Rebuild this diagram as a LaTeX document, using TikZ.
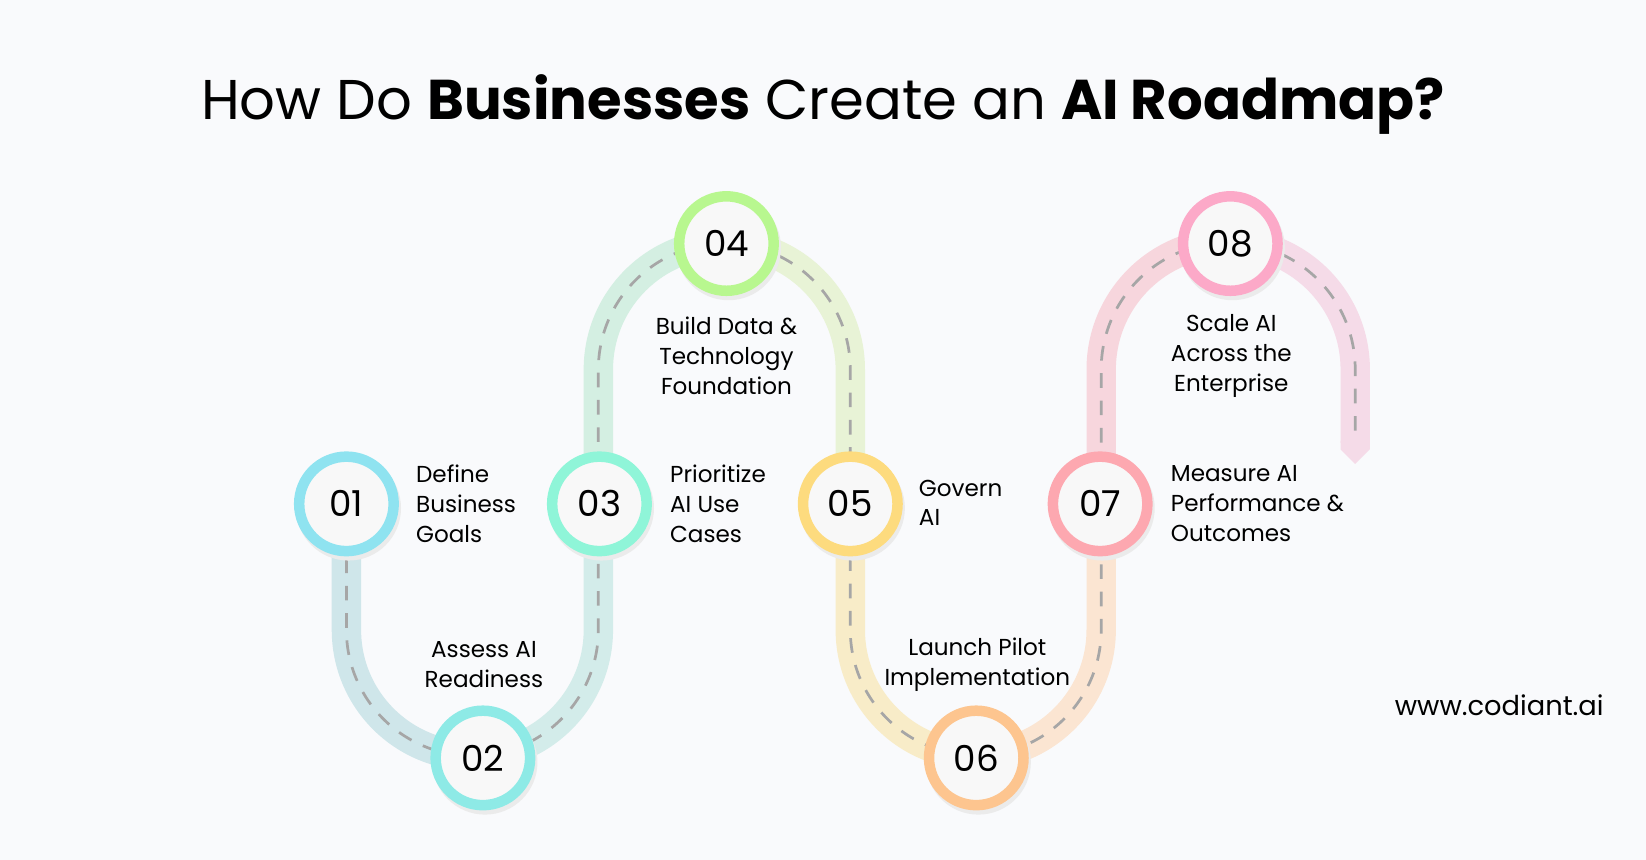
\documentclass[tikz,border=0pt]{standalone}
\usepackage{fontspec}
\setmainfont{Poppins}
\begin{document}
\begin{tikzpicture}[x=0.5pt,y=-0.5pt,
  band/.style={line width=14pt},
  ring/.style={circle,minimum size=45pt,inner sep=0pt,line width=5pt,fill=inner,font=\fontsize{17}{17}\selectfont},
  lbl/.style={font=\fontsize{11}{14.25}\selectfont,inner sep=0pt,text=black},
  lft/.style={lbl,align=left,anchor=west},
  ctr/.style={lbl,align=center}]
\definecolor{bg}{HTML}{F9FAFC}
\definecolor{inner}{HTML}{F8F8F8}
\definecolor{cA}{HTML}{CFE6EA}\definecolor{cB}{HTML}{D3ECEA}
\definecolor{cC}{HTML}{D4EFE2}\definecolor{cD}{HTML}{E8F3D6}
\definecolor{cE}{HTML}{F8ECC8}\definecolor{cF}{HTML}{FBE5D2}
\definecolor{cG}{HTML}{F7D6DD}\definecolor{cH}{HTML}{F5DBE8}
\definecolor{r1}{HTML}{8FE3F0}\definecolor{r2}{HTML}{8EEAE6}
\definecolor{r3}{HTML}{8FF5D8}\definecolor{r4}{HTML}{B8F78F}
\definecolor{r5}{HTML}{FDDB7E}\definecolor{r6}{HTML}{FDC58F}
\definecolor{r7}{HTML}{FDA8B0}\definecolor{r8}{HTML}{FCA9C8}
\fill[bg] (0,0) rectangle (1568,819);
\useasboundingbox (0,0) rectangle (1568,819);
% track
\draw[band,cA] (330,480)--(330,600) arc[start angle=180,end angle=90,radius=120];
\draw[band,cB] (450,720) arc[start angle=90,end angle=0,radius=120] -- (570,480);
\draw[band,cC] (570,480)--(570,352) arc[start angle=180,end angle=270,radius=120];
\draw[band,cD] (690,232) arc[start angle=270,end angle=360,radius=120] -- (810,480);
\draw[band,cE] (810,480)--(810,600) arc[start angle=180,end angle=90,radius=119.5];
\draw[band,cF] (929.5,719.5) arc[start angle=90,end angle=0,radius=119.5] -- (1049,480);
\draw[band,cG] (1049,480)--(1049,352) arc[start angle=180,end angle=270,radius=121];
\draw[band,cH] (1170,231) arc[start angle=270,end angle=360,radius=121] -- (1291,422);
\fill[cH] (1277,420)--(1305,420)--(1305,428)--(1291,442)--(1277,428)--cycle;
\draw[gray!70,line width=1.3pt,dash pattern=on 7pt off 6pt]
 (330,480)--(330,600) arc[start angle=180,end angle=0,radius=120]
 --(570,352) arc[start angle=180,end angle=360,radius=120]
 --(810,600) arc[start angle=180,end angle=0,radius=119.5]
 --(1049,352) arc[start angle=180,end angle=360,radius=121]--(1291,422);
% circles
\foreach \n/\x/\y/\c in {01/330/480/r1,02/460/722/r2,03/571/480/r3,04/692/232/r4,05/810/480/r5,06/930/722/r6,07/1048/480/r7,08/1172/232/r8}{
  \fill[black!8] (\x+2,\y+4) circle[radius=50];
  \node[ring,draw=\c] (c\n) at (\x,\y) {\n};
}
% labels
\node[lft] (t1) at (396,480) {Define\\Business\\Goals};
\node[ctr] (t2) at (461,633) {Assess AI\\Readiness};
\node[lft] (t3) at (638,480) {Prioritize\\AI Use\\Cases};
\node[ctr] (t4) at (692,339) {Build Data \&\\Technology\\Foundation};
\node[lft] (t5) at (875,479) {Govern\\AI};
\node[ctr] (t6) at (931,633) {Launch Pilot\\Implementation};
\node[lft] (t7) at (1115,480) {Measure AI\\Performance \&\\Outcomes};
\node[ctr] (t8) at (1173,339) {Scale AI\\Across the\\Enterprise};
\node[lbl,anchor=east,font=\fontsize{13}{13}\selectfont] (web) at (1528,672) {www.codiant.ai};
\node[inner sep=0pt,font=\fontsize{26.7}{26.7}\selectfont] (title) at (784,100) {How Do \textbf{Businesses} Create an \textbf{AI Roadmap?}};
\end{tikzpicture}
\end{document}
